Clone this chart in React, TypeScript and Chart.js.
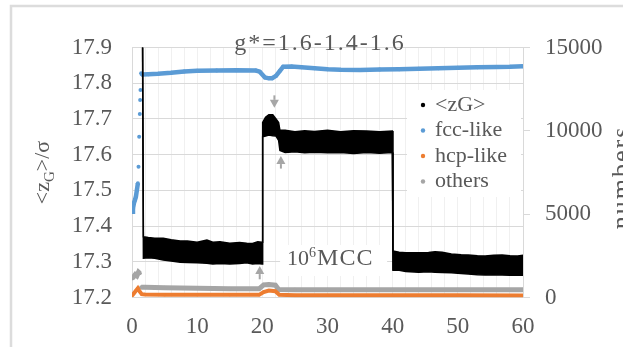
import React, { useEffect, useRef } from "react";
import { Chart, registerables } from "chart.js";

Chart.register(...registerables);

const FONT = "'Liberation Serif', 'Times New Roman', serif";
const TEXT = "#595959";
const GRID = "#d9d9d9";

// ---- data ----
const zgX = [
  1.55, 1.75, 2.5, 3.5, 4.8, 6, 7.4, 8.5, 10, 11.5, 12.4, 13.5, 15, 16.5, 17.6, 18.5, 19.3, 19.95,
  20.05, 20.5, 21, 21.6, 22.1, 22.5, 22.7, 23.5, 25, 26.5, 28, 30, 32, 34, 36, 38, 39.95,
  40.05, 41, 42, 44, 45.5, 46.5, 47.6, 49, 50.5, 51.6, 53, 54.2, 55.5, 56.8, 58, 59.2, 60,
];
const zgHi = [
  18.3, 17.37, 17.368, 17.366, 17.366, 17.362, 17.358, 17.358, 17.355, 17.361, 17.355, 17.356, 17.352, 17.354, 17.352, 17.351, 17.356, 17.355,
  17.69, 17.705, 17.712, 17.712, 17.7, 17.69, 17.668, 17.668, 17.664, 17.667, 17.665, 17.668, 17.664, 17.667, 17.666, 17.664, 17.666,
  17.33, 17.327, 17.325, 17.325, 17.326, 17.328, 17.327, 17.322, 17.32, 17.319, 17.317, 17.316, 17.318, 17.319, 17.317, 17.316, 17.318,
];
const zgLo = [
  18.2, 17.31, 17.311, 17.31, 17.305, 17.302, 17.299, 17.298, 17.297, 17.296, 17.294, 17.295, 17.294, 17.295, 17.297, 17.294, 17.295, 17.294,
  17.65, 17.652, 17.655, 17.653, 17.652, 17.64, 17.612, 17.606, 17.608, 17.605, 17.607, 17.605, 17.606, 17.603, 17.606, 17.604, 17.606,
  17.276, 17.276, 17.273, 17.271, 17.272, 17.271, 17.27, 17.269, 17.267, 17.266, 17.264, 17.263, 17.264, 17.263, 17.262, 17.263, 17.262,
];

const fccX = [
  0, 0.15, 0.3, 0.45, 0.6, 0.75, 0.9, 1.0, 1.1, 1.2, 1.25, 1.3, 1.4, 1.6,
  2.5, 4, 6, 8, 10, 13, 16, 19,
  19.6, 20.4, 21, 21.5, 22.1, 22.7, 23.2,
  24.5, 26, 28, 30, 32, 35, 38,
  41, 44, 47, 50, 53, 56, 58, 60,
];
const fccY = [
  5150, 5350, 5670, 5850, 6050, 6450, 6850, 7850, 9650, 11010, 11850, 12450, 13450, 13380,
  13400, 13420, 13480, 13560, 13600, 13620, 13640, 13620,
  13550, 13200, 13150, 13160, 13300, 13600, 13850,
  13860, 13820, 13760, 13700, 13660, 13650, 13680,
  13700, 13730, 13760, 13780, 13810, 13830, 13840, 13870,
];

const hcpX = [0, 0.3, 0.6, 0.9, 1.2, 1.5, 2, 5, 10, 15, 19.5, 20.2, 21, 22, 22.6, 25, 30, 40, 50, 60];
const hcpY = [100, 250, 400, 550, 350, 200, 180, 170, 160, 160, 160, 330, 420, 380, 170, 140, 130, 130, 130, 120];

const othX = [0, 0.25, 0.5, 0.75, 1.0, 1.2, 1.4, 2, 5, 10, 15, 19.5, 20.2, 21, 22, 22.5, 25, 30, 40, 50, 60];
const othY = [1140, 1250, 1380, 1300, 1520, 1450, 620, 620, 580, 550, 530, 520, 760, 780, 740, 480, 470, 470, 470, 470, 460];

const xGridTicks = [0, 2, 4, 6, 8, 10, 12, 14, 16, 18, 20, 22, 24, 26, 28, 30, 32, 34, 36, 38, 40, 42, 44, 46, 48, 50, 52, 54, 56, 58, 60];
const xLabelTicks = [0, 10, 20, 30, 40, 50, 60];
const yTicks = [17.2, 17.3, 17.4, 17.5, 17.6, 17.7, 17.8, 17.9];
const y1Ticks = [0, 5000, 10000, 15000];

const titleText = "g*=1.6-1.4-1.6";
const rightTitle = "numbers";

// annotations (data coordinates)
const arrowX = [21.85, 22.85, 19.6];
const arrowTip = [17.731, 17.596, 17.288];
const arrowTail = [17.766, 17.561, 17.251];
const mccX = 23.8;
const mccY = 17.291;

const toPts = (xs: number[], ys: number[]) => xs.map((x, i) => ({ x, y: ys[i] }));

const hideJump = (color: string) => ({
  borderColor: (c: any) => (Math.abs(c.p1.y - c.p0.y) > 8 ? "rgba(0,0,0,0)" : color),
});

const decorPlugin = {
  id: "decor",
  beforeDraw(chart: any) {
    const ctx = chart.ctx;
    ctx.save();
    ctx.fillStyle = "#fff";
    ctx.fillRect(0, 0, chart.width, chart.height);
    ctx.strokeStyle = "#dcdcdc";
    ctx.lineWidth = 2.5;
    ctx.strokeRect(11, 6, chart.width + 40, chart.height + 40);
    ctx.restore();
  },
  beforeDatasetsDraw(chart: any) {
    const ctx = chart.ctx;
    const a = chart.chartArea;
    const xs = chart.scales.x;
    const ys = chart.scales.y;
    ctx.save();
    ctx.fillStyle = "#fff";
    // legend box
    ctx.fillRect(a.right - 116, a.top + 42.5, 114, 107);
    // 10^6 MCC box
    const px = xs.getPixelForValue(mccX);
    const py = ys.getPixelForValue(mccY);
    ctx.fillRect(px - 7, py - 20, 107, 31);
    ctx.restore();
  },
  afterDatasetsDraw(chart: any) {
    const ctx = chart.ctx;
    const a = chart.chartArea;
    const xs = chart.scales.x;
    const ys = chart.scales.y;
    ctx.save();
    // arrows
    ctx.fillStyle = "#a6a6a6";
    ctx.strokeStyle = "#a6a6a6";
    for (let i = 0; i < arrowX.length; i++) {
      const x = xs.getPixelForValue(arrowX[i]);
      const tip = ys.getPixelForValue(arrowTip[i]);
      const tail = ys.getPixelForValue(arrowTail[i]);
      const dir = tail > tip ? 1 : -1;
      const base = tip + dir * 8;
      ctx.lineWidth = 2;
      ctx.beginPath();
      ctx.moveTo(x, tail);
      ctx.lineTo(x, base);
      ctx.stroke();
      ctx.beginPath();
      ctx.moveTo(x, tip);
      ctx.lineTo(x - 4.5, base);
      ctx.lineTo(x + 4.5, base);
      ctx.closePath();
      ctx.fill();
    }
    // 10^6 MCC
    const px = xs.getPixelForValue(mccX);
    const py = ys.getPixelForValue(mccY);
    ctx.fillStyle = TEXT;
    ctx.textBaseline = "alphabetic";
    ctx.textAlign = "left";
    ctx.font = `22px ${FONT}`;
    ctx.fillText("10", px, py);
    let w = ctx.measureText("10").width;
    ctx.font = `14px ${FONT}`;
    ctx.fillText("6", px + w, py - 8);
    w += ctx.measureText("6").width;
    ctx.font = `24px ${FONT}`;
    (ctx as any).letterSpacing = "1px";
    ctx.fillText("MCC", px + w + 1, py);
    (ctx as any).letterSpacing = "0px";

    // legend
    const lx = a.right - 116;
    const ly = a.top + 42.5;
    const items = chart.data.datasets.filter((d: any) => d.inLegend);
    ctx.font = `22px ${FONT}`;
    ctx.textBaseline = "middle";
    items.forEach((d: any, i: number) => {
      const cy = ly + 15 + i * 25.5;
      ctx.fillStyle = d.legendColor;
      ctx.beginPath();
      ctx.arc(lx + 16, cy, 2.2, 0, Math.PI * 2);
      ctx.fill();
      ctx.fillStyle = TEXT;
      ctx.fillText(d.label, lx + 28, cy);
    });
    ctx.restore();
  },
  afterDraw(chart: any) {
    const ctx = chart.ctx;
    const a = chart.chartArea;
    ctx.save();
    ctx.fillStyle = TEXT;
    // title
    ctx.font = `24px ${FONT}`;
    (ctx as any).letterSpacing = "2px";
    ctx.textAlign = "center";
    ctx.textBaseline = "alphabetic";
    ctx.fillText(titleText, 320, 50);
    (ctx as any).letterSpacing = "0px";

    // left axis title <z_G>/σ
    const cy = (a.top + a.bottom) / 2;
    ctx.save();
    ctx.translate(49, cy);
    ctx.rotate(-Math.PI / 2);
    ctx.textAlign = "left";
    const parts: [string, string, number][] = [
      ["<z", `22px ${FONT}`, 0],
      ["G", `15px ${FONT}`, 5],
      [">/σ", `22px ${FONT}`, 0],
    ];
    let total = 0;
    parts.forEach(([t, f]) => {
      ctx.font = f;
      total += ctx.measureText(t).width;
    });
    let x = -total / 2;
    parts.forEach(([t, f, dy]) => {
      ctx.font = f;
      ctx.fillText(t, x, dy);
      x += ctx.measureText(t).width;
    });
    ctx.restore();

    // right axis title
    ctx.save();
    ctx.translate(629, cy + 5);
    ctx.rotate(-Math.PI / 2);
    ctx.textAlign = "center";
    ctx.font = `26px ${FONT}`;
    (ctx as any).letterSpacing = "2px";
    ctx.fillText(rightTitle, 0, 0);
    ctx.restore();
    ctx.restore();
  },
};

export default function App() {
  const ref = useRef<HTMLCanvasElement>(null);
  useEffect(() => {
    if (!ref.current) return;
    Chart.defaults.font.family = FONT;
    Chart.defaults.color = TEXT;
    const tickFont = { size: 23, family: FONT };
    const chart = new Chart(ref.current, {
      type: "line",
      data: {
        datasets: [
          {
            label: "<zG>",
            inLegend: true,
            legendColor: "#000000",
            data: toPts(zgX, zgHi),
            yAxisID: "y",
            borderColor: "#000000",
            backgroundColor: "#000000",
            borderWidth: 1.5,
            pointRadius: 0,
            tension: 0,
            fill: "+1",
          },
          {
            label: "<zG> lower",
            data: toPts(zgX, zgLo),
            yAxisID: "y",
            borderColor: "#000000",
            borderWidth: 1.5,
            pointRadius: 0,
            tension: 0,
            fill: false,
          },
          {
            label: "fcc-like",
            inLegend: true,
            legendColor: "#5b9bd5",
            data: toPts(fccX, fccY),
            yAxisID: "y1",
            borderColor: "#5b9bd5",
            backgroundColor: "#5b9bd5",
            borderWidth: 4.5,
            pointRadius: 2,
            pointBorderWidth: 0,
            tension: 0,
            fill: false,
            segment: hideJump("#5b9bd5"),
          },
          {
            label: "hcp-like",
            inLegend: true,
            legendColor: "#ed7d31",
            data: toPts(hcpX, hcpY),
            yAxisID: "y1",
            borderColor: "#ed7d31",
            backgroundColor: "#ed7d31",
            borderWidth: 4,
            pointRadius: 1.5,
            pointBorderWidth: 0,
            tension: 0,
            fill: false,
            segment: hideJump("#ed7d31"),
          },
          {
            label: "others",
            inLegend: true,
            legendColor: "#a5a5a5",
            data: toPts(othX, othY),
            yAxisID: "y1",
            borderColor: "#a5a5a5",
            backgroundColor: "#a5a5a5",
            borderWidth: 5,
            pointRadius: 2,
            pointBorderWidth: 0,
            tension: 0,
            fill: false,
            segment: hideJump("#a5a5a5"),
          },
        ] as any,
      },
      options: {
        responsive: false,
        animation: false,
        events: [],
        layout: { padding: { top: 47.5, left: 0, right: 0, bottom: 0 } },
        plugins: {
          legend: { display: false },
          title: { display: false },
          tooltip: { enabled: false },
        },
        scales: {
          x: {
            type: "linear",
            min: 0,
            max: 60,
            afterBuildTicks: (s: any) => {
              s.ticks = xGridTicks.map((v) => ({ value: v }));
            },
            afterFit: (s: any) => {
              s.height = 49.5;
            },
            ticks: {
              autoSkip: false,
              maxRotation: 0,
              padding: 16,
              font: tickFont,
              color: TEXT,
              callback: (v: any) => (xLabelTicks.includes(Number(v)) ? String(v) : ""),
            },
            grid: { color: "#f0f0f0", drawTicks: false },
            border: { color: GRID },
          },
          y: {
            type: "linear",
            position: "left",
            min: 17.2,
            max: 17.9,
            afterBuildTicks: (s: any) => {
              s.ticks = yTicks.map((v) => ({ value: v }));
            },
            afterFit: (s: any) => {
              s.width = 132;
            },
            ticks: {
              padding: 20,
              font: tickFont,
              color: TEXT,
              callback: (v: any) => Number(v).toFixed(1),
            },
            grid: { color: GRID, drawTicks: false },
            border: { color: GRID },
          },
          y1: {
            type: "linear",
            position: "right",
            min: 0,
            max: 15000,
            afterBuildTicks: (s: any) => {
              s.ticks = y1Ticks.map((v) => ({ value: v }));
            },
            afterFit: (s: any) => {
              s.width = 100;
            },
            ticks: {
              padding: 15,
              font: tickFont,
              color: TEXT,
              callback: (v: any) => String(v),
            },
            grid: { drawOnChartArea: false, tickLength: 7, color: GRID },
            border: { color: GRID },
          },
        },
      } as any,
      plugins: [decorPlugin],
    });
    return () => chart.destroy();
  }, []);
  return (
    <div style={{ position: "fixed", left: 0, top: 0, width: 623, height: 347, background: "#fff" }}>
      <canvas ref={ref} width={623} height={347} style={{ display: "block" }} />
    </div>
  );
}
